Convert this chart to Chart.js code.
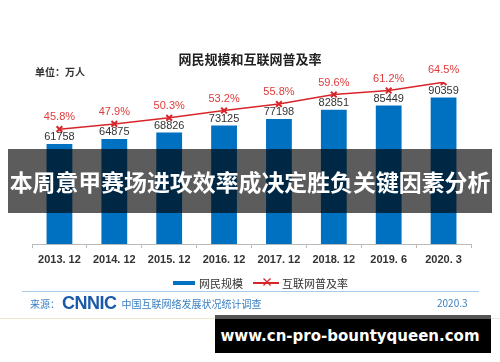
<!DOCTYPE html>
<html>
<head>
    <title>网民规模和互联网普及率</title>
    <script src="https://cdn.jsdelivr.net/npm/chart.js@4"></script>
    <style>
        body { margin: 0; background: #fff; font-family: "Noto Sans CJK SC", "Liberation Sans", sans-serif; }
        .wrap { position: relative; width: 500px; height: 362px; overflow: hidden; }
        canvas { position: absolute; left: 0; top: 0; }
        .title { position: absolute; left: 0; width: 500px; top: 49px; text-align: center; font-size: 13px; font-weight: bold; color: #222; }
        .unit { position: absolute; left: 35px; top: 64px; font-size: 10px; font-weight: bold; color: #333; }
        .legend { position: absolute; top: 275px; left: 173px; font-size: 11px; color: #333; display: flex; align-items: center; }
        .legend .sw { display: inline-block; width: 22px; height: 4px; background: #0070C0; margin-right: 4px; }
        .legend .ln { position: relative; display: inline-block; width: 26px; height: 2px; background: #d9252a; margin: 0 3px 0 10px; }
        .legend .ln:after { content: "×"; position: absolute; left: 8px; top: -9px; color: #d9252a; font-size: 12px; font-weight: bold; }
        .rule { position: absolute; left: 22px; width: 457px; top: 291px; height: 1px; background: #a9cbea; }
        .source { position: absolute; left: 30px; top: 293px; font-size: 10px; color: #3a7fc1; display: flex; align-items: center; }
        .source .logo { font-family: "Liberation Sans", sans-serif; font-weight: 900; font-size: 18px; color: #1a5aa8; margin: 0 5px 0 2px; letter-spacing: -0.5px; }
        .date { position: absolute; left: 437px; top: 295px; font-size: 10px; color: #3a7fc1; }
        .foot { position: absolute; left: 0; width: 500px; top: 318px; height: 1px; background: #f0e6d2; }
        .band { position: absolute; left: 8px; width: 484px; top: 149px; height: 64px; background: rgba(0,0,0,0.64); }
        .band span { position: absolute; left: -10px; width: 504px; top: 0; color: #fff; font-weight: bold; font-size: 22.9px; line-height: 64px; text-align: center; white-space: nowrap; }
        .site { position: absolute; left: 215px; width: 276px; top: 315px; height: 38px; background: #000; border-top: 4px solid #555; box-sizing: border-box; color: #fff; font-family: "DejaVu Sans", sans-serif; font-weight: bold; font-size: 15px; line-height: 34px; text-align: center; white-space: nowrap; padding-right: 6px; }
    </style>
</head>
<body>
<div class="wrap">
    <canvas id="graph" width="500" height="362"></canvas>
    <div class="title">网民规模和互联网普及率</div>
    <div class="unit">单位：万人</div>
    <div class="legend"><span class="sw"></span>网民规模<span class="ln"></span>互联网普及率</div>
    <div class="rule"></div>
    <div class="source">来源：<span class="logo">CNNIC</span>中国互联网络发展状况统计调查</div>
    <div class="date">2020.3</div>
    <div class="foot"></div>
    <div class="band"><span>本周意甲赛场进攻效率成决定胜负关键因素分析</span></div>
    <div class="site">www.cn-pro-bountyqueen.com</div>
</div>
<script>
    const categories = ['2013. 12', '2014. 12', '2015. 12', '2016. 12', '2017. 12', '2018. 12', '2019. 6', '2020. 3'];
    const netizens = [61758, 64875, 68826, 73125, 77198, 82851, 85449, 90359];
    const penetration = [45.8, 47.9, 50.3, 53.2, 55.8, 59.6, 61.2, 64.5];

    // value labels above bars and points
    const valueLabels = {
        id: 'valueLabels',
        afterDatasetsDraw(chart) {
            const ctx = chart.ctx;
            ctx.save();
            ctx.textAlign = 'center';
            ctx.textBaseline = 'middle';
            ctx.font = '11px "Liberation Sans", sans-serif';
            ctx.fillStyle = '#333';
            chart.getDatasetMeta(1).data.forEach((el, i) => {
                ctx.fillText(String(netizens[i]), el.x, el.y - 7);
            });
            ctx.fillStyle = '#e03a3a';
            chart.getDatasetMeta(0).data.forEach((el, i) => {
                ctx.fillText(penetration[i].toFixed(1) + '%', el.x, el.y - 12);
            });
            ctx.restore();
        }
    };

    const chart = new Chart(document.getElementById('graph'), {
        data: {
            labels: categories,
            datasets: [
                {
                    type: 'line',
                    label: '互联网普及率',
                    data: penetration,
                    yAxisID: 'y2',
                    borderColor: '#d9252a',
                    borderWidth: 1.5,
                    pointStyle: 'crossRot',
                    pointRadius: 4,
                    pointBorderWidth: 2,
                    pointBorderColor: '#d9252a',
                    tension: 0,
                    order: 0
                },
                {
                    type: 'bar',
                    label: '网民规模',
                    data: netizens,
                    yAxisID: 'y',
                    backgroundColor: '#0070C0',
                    barPercentage: 0.47,
                    categoryPercentage: 1,
                    order: 1
                }
            ]
        },
        options: {
            responsive: false,
            animation: false,
            layout: { padding: { left: 32, right: 29, top: 82, bottom: 94 } },
            plugins: { legend: { display: false }, tooltip: { enabled: false } },
            scales: {
                x: {
                    afterFit(scale) { scale.height = 24; },
                    border: { color: '#bbb', width: 1 },
                    grid: { drawOnChartArea: false, tickLength: 4, color: '#bbb', offset: true },
                    ticks: { color: '#333', font: { size: 11, family: '"Liberation Sans", sans-serif', weight: 'bold' }, padding: 5 }
                },
                y: { display: false, min: 0, max: 100000 },
                y2: { display: false, min: 0, max: 64.6 }
            }
        },
        plugins: [valueLabels]
    });
</script>
</body>
</html>
